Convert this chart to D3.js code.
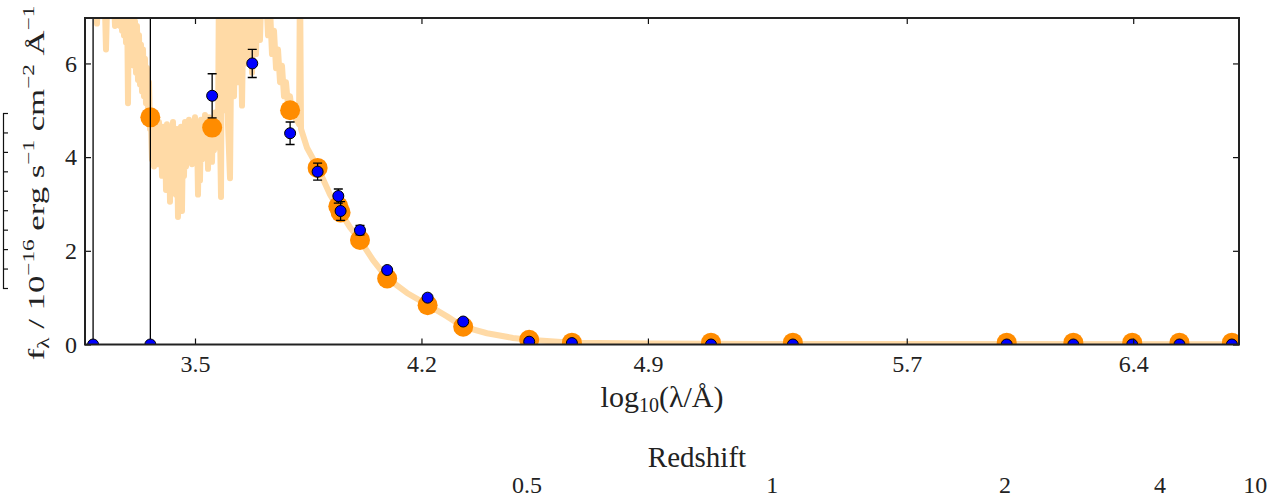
<!DOCTYPE html>
<html>
<head>
<meta charset="utf-8">
<script src="https://cdn.jsdelivr.net/npm/d3@7/dist/d3.min.js"></script>
<style>
  body { margin: 0; background: #fff; }
  svg text { font-family: "Liberation Serif", "DejaVu Serif", serif; fill: #222; }
</style>
</head>
<body>
<svg id="chart" width="1268" height="498"></svg>
<script>
// Observed photometry (log10 wavelength in Å, flux in 1e-16 erg/s/cm2/Å)
const obsLogLam = [3.185, 3.362, 3.553, 3.677, 3.794, 3.879, 3.943, 3.950, 4.010, 4.094, 4.219,
                   4.329, 4.533, 4.665, 5.095, 5.348, 6.009, 6.215, 6.397, 6.543, 6.705];
const obsFlux   = [0, 0, 5.31, 6.00, 4.51, 3.69, 3.17, 2.85, 2.44, 1.59, 1.00,
                   0.49, 0.06, 0.03, 0, 0, 0, 0, 0, 0, 0];
const obsErr    = [25, 25, 0.47, 0.30, 0.24, 0.18, 0.15, 0.20, 0.10, 0.05, 0.05,
                   0.05, 0.02, 0.01, 0, 0, 0, 0, 0, 0, 0];
// Model flux in each band (null = off scale)
const modelFlux = [null, 4.85, 4.63, null, 5.00, 3.77, 2.95, 2.82, 2.23, 1.41, 0.84,
                   0.38, 0.10, 0.04, 0.04, 0.04, 0.04, 0.04, 0.04, 0.04, 0.04];

// Best-fit model spectrum: [log10 λ, flux]
const modelSpectrum = [
  [3.1600, 8.0], [3.1754, 8.0], [3.1909, 8.0], [3.1971, 6.85], [3.2032, 8.0], [3.2187, 8.0],
  [3.2249, 6.3], [3.2311, 8.0], [3.2465, 8.0], [3.2527, 6.8],
  // blue continuum falling off
  [3.2589, 8.0], [3.2620, 6.94], [3.2651, 8.0], [3.2682, 6.8], [3.2713, 8.0], [3.2744, 6.7],
  [3.2775, 7.9], [3.2805, 6.6], [3.2836, 7.8], [3.2867, 6.45], [3.2898, 7.6], [3.2929, 5.15],
  [3.2960, 7.4], [3.2991, 6.2], [3.3022, 7.3], [3.3053, 6.05], [3.3084, 7.1], [3.3114, 5.95],
  [3.3145, 6.9], [3.3176, 5.8], [3.3207, 6.8], [3.3238, 5.65], [3.3269, 6.6], [3.3300, 5.55],
  [3.3331, 6.4], [3.3362, 5.4], [3.3393, 6.3], [3.3423, 5.3], [3.3454, 6.1], [3.3485, 5.15],
  [3.3516, 5.9], [3.3547, 5.0], [3.3578, 5.6], [3.3609, 4.6],
  // absorption-rich region
  [3.3640, 4.75], [3.3671, 3.95], [3.3702, 4.6], [3.3733, 3.8], [3.3764, 4.7], [3.3794, 4.0],
  [3.3825, 4.55], [3.3856, 3.85], [3.3887, 4.75], [3.3918, 3.9], [3.3949, 4.5], [3.3980, 3.6],
  [3.4011, 4.65], [3.4042, 3.9], [3.4073, 4.6], [3.4104, 3.3], [3.4134, 4.7], [3.4165, 3.8],
  [3.4196, 4.55], [3.4227, 3.05], [3.4258, 4.6], [3.4289, 3.7], [3.4320, 4.75], [3.4351, 3.5],
  [3.4382, 4.5], [3.4413, 3.2], [3.4443, 4.6], [3.4474, 2.72], [3.4505, 4.5], [3.4536, 3.4],
  [3.4567, 4.65], [3.4598, 2.85], [3.4629, 4.5], [3.4660, 3.6], [3.4691, 4.75], [3.4722, 3.8],
  [3.4753, 4.6], [3.4784, 3.95], [3.4814, 4.8], [3.4845, 4.0], [3.4876, 4.55], [3.4907, 3.85],
  [3.4938, 4.7], [3.4969, 4.05], [3.5000, 4.85], [3.5031, 3.9], [3.5062, 4.6], [3.5093, 3.2],
  [3.5124, 4.75], [3.5155, 3.5], [3.5185, 4.8], [3.5216, 3.95], [3.5247, 4.65], [3.5278, 4.1],
  [3.5309, 4.9], [3.5340, 4.0], [3.5371, 4.7], [3.5402, 3.75], [3.5433, 4.85], [3.5464, 4.05],
  [3.5495, 4.6], [3.5526, 3.9], [3.5556, 4.8], [3.5587, 4.15], [3.5618, 4.95], [3.5649, 4.2],
  [3.5680, 4.8], [3.5711, 4.3],
  // strong emission lines
  [3.5742, 8.0], [3.5773, 4.6], [3.5804, 3.15], [3.5835, 8.0], [3.5896, 5.0], [3.5958, 8.0],
  [3.6020, 4.7], [3.6082, 3.55], [3.6144, 8.0], [3.6206, 5.3], [3.6268, 8.0], [3.6329, 5.6],
  [3.6391, 8.0], [3.6453, 5.1], [3.6515, 8.0], [3.6577, 6.0], [3.6638, 6.6], [3.6700, 8.0],
  [3.6762, 5.8], [3.6824, 8.0], [3.6886, 6.2], [3.6948, 8.0], [3.7009, 6.5], [3.7071, 8.0],
  // declining red continuum
  [3.7133, 7.2], [3.7195, 7.6], [3.7257, 6.6], [3.7318, 7.2], [3.7380, 6.2], [3.7442, 6.7],
  [3.7504, 5.9], [3.7566, 6.3], [3.7628, 5.6], [3.7689, 5.95], [3.7751, 5.3], [3.7813, 5.6],
  [3.7875, 5.1], [3.7937, 5.3], [3.7999, 4.9], [3.8060, 5.0], [3.8122, 4.8], [3.8184, 4.75],
  [3.8215, 4.7], [3.8246, 8.0], [3.8277, 4.6], [3.8462, 4.2],
  [3.8802, 3.77], [3.9173, 3.2], [3.9420, 2.91], [3.9791, 2.5], [4.0100, 2.23], [4.0502, 1.8],
  [4.0935, 1.42], [4.1553, 1.1], [4.2202, 0.84], [4.2790, 0.6], [4.3284, 0.38], [4.4026, 0.24],
  [4.4830, 0.14], [4.5325, 0.10], [4.6654, 0.04], [4.9065, 0.02], [5.3702, 0.01], [5.9884, 0.01],
  [6.7273, 0.005]
];

const xTicks = [3.5, 4.2, 4.9, 5.7, 6.4];
const yTicks = [0, 2, 4, 6];
const redshiftLabels = ["0.5", "1", "2", "4", "10"];
const redshiftLogLam = [4.526, 5.284, 6.004, 6.483, 6.777];

const M = { left: 85, right: 1239, top: 18, bottom: 344.5 };
const x = d3.scaleLinear().domain([3.16, 6.727]).range([M.left, M.right]);
const y = d3.scaleLinear().domain([0, 6.97]).range([M.bottom, M.top]);

const svg = d3.select("#chart");

svg.append("defs").append("clipPath").attr("id", "plotArea")
  .append("rect")
  .attr("x", M.left).attr("y", M.top)
  .attr("width", M.right - M.left).attr("height", M.bottom - M.top);

const plot = svg.append("g").attr("clip-path", "url(#plotArea)");

// model spectrum
plot.append("path")
  .datum(modelSpectrum)
  .attr("d", d3.line().x(d => x(d[0])).y(d => y(d[1])))
  .attr("fill", "none")
  .attr("stroke", "#ffdaa6")
  .attr("stroke-width", 6)
  .attr("stroke-linejoin", "round");

const obs = obsLogLam.map((l, i) => ({ l, f: obsFlux[i], e: obsErr[i], m: modelFlux[i] }));

// model photometry
plot.selectAll("circle.model")
  .data(obs.filter(d => d.m !== null))
  .join("circle")
  .attr("class", "model")
  .attr("cx", d => x(d.l)).attr("cy", d => y(d.m))
  .attr("r", 10)
  .attr("fill", "#ff8c00");

// error bars
const eb = plot.selectAll("g.err").data(obs.filter(d => d.e > 0)).join("g").attr("class", "err")
  .attr("stroke", "#000").attr("stroke-width", 1.3);
eb.append("line")
  .attr("x1", d => x(d.l)).attr("x2", d => x(d.l))
  .attr("y1", d => y(d.f - d.e)).attr("y2", d => y(d.f + d.e));
eb.append("line")
  .attr("x1", d => x(d.l) - 4.5).attr("x2", d => x(d.l) + 4.5)
  .attr("y1", d => y(d.f - d.e)).attr("y2", d => y(d.f - d.e));
eb.append("line")
  .attr("x1", d => x(d.l) - 4.5).attr("x2", d => x(d.l) + 4.5)
  .attr("y1", d => y(d.f + d.e)).attr("y2", d => y(d.f + d.e));

// observed photometry
plot.selectAll("circle.obs")
  .data(obs)
  .join("circle")
  .attr("class", "obs")
  .attr("cx", d => x(d.l)).attr("cy", d => y(d.f))
  .attr("r", 5.5)
  .attr("fill", "#0000ff")
  .attr("stroke", "#000")
  .attr("stroke-width", 1);

// axes with inward ticks
function styleAxis(g) {
  g.select(".domain").remove();
  g.selectAll(".tick line").attr("stroke", "#111").attr("stroke-width", 1.2);
  g.selectAll(".tick text").attr("font-size", 24).style("font-family", "Liberation Serif");
}
svg.append("g").attr("transform", `translate(0,${M.bottom})`)
  .call(d3.axisBottom(x).tickValues(xTicks).tickSize(-6).tickPadding(10).tickFormat(d3.format(".1f")))
  .call(styleAxis);
svg.append("g").attr("transform", `translate(0,${M.top})`)
  .call(d3.axisTop(x).tickValues(xTicks).tickSize(-6).tickFormat(""))
  .call(styleAxis);
svg.append("g").attr("transform", `translate(${M.left},0)`)
  .call(d3.axisLeft(y).tickValues(yTicks).tickSize(-6).tickPadding(8).tickFormat(d3.format("d")))
  .call(styleAxis);
svg.append("g").attr("transform", `translate(${M.right},0)`)
  .call(d3.axisRight(y).tickValues(yTicks).tickSize(-6).tickFormat(""))
  .call(styleAxis);

// frame
svg.append("rect")
  .attr("x", M.left).attr("y", M.top)
  .attr("width", M.right - M.left).attr("height", M.bottom - M.top)
  .attr("fill", "none").attr("stroke", "#222").attr("stroke-width", 2);

// x label
const xl = svg.append("text")
  .attr("x", 662).attr("y", 407)
  .attr("text-anchor", "middle")
  .attr("font-size", 30);
xl.append("tspan").text("log");
xl.append("tspan").attr("font-size", 20).attr("dy", 5).text("10");
xl.append("tspan").attr("dy", -5).text("(λ/Å)");

// y label
const yl = svg.append("text")
  .attr("text-anchor", "middle")
  .attr("font-size", 24);
yl.append("tspan").text("f");
yl.append("tspan").attr("font-size", 16).attr("dy", 5).text("λ");
yl.append("tspan").attr("dy", -5).text(" / 10");
yl.append("tspan").attr("font-size", 16).attr("dy", -10).text("−16");
yl.append("tspan").attr("dy", 10).text(" erg s");
yl.append("tspan").attr("font-size", 16).attr("dy", -10).text("−1");
yl.append("tspan").attr("dy", 10).text(" cm");
yl.append("tspan").attr("font-size", 16).attr("dy", -10).text("−2");
yl.append("tspan").attr("dy", 10).text(" Å");
yl.append("tspan").attr("font-size", 16).attr("dy", -10).text("−1");
const ylLen = yl.node().getComputedTextLength();
yl.attr("transform", `translate(44,183) rotate(-90) scale(${355 / ylLen},1)`);

// redshift scale
svg.append("text")
  .attr("x", 697).attr("y", 467)
  .attr("text-anchor", "middle")
  .attr("font-size", 29)
  .text("Redshift");
svg.selectAll("text.z")
  .data(redshiftLabels)
  .join("text")
  .attr("class", "z")
  .attr("x", (d, i) => x(redshiftLogLam[i]))
  .attr("y", 493)
  .attr("text-anchor", "middle")
  .attr("font-size", 24)
  .text(d => d);

// bare tick ruler on the far left
const rulerScale = d3.scaleLinear().domain([0, 9]).range([113, 288]);
const ruler = svg.append("g").attr("transform", "translate(3,0)")
  .call(d3.axisRight(rulerScale).tickValues(d3.range(0, 10)).tickSize(5).tickFormat(""));
ruler.selectAll("path, line").attr("stroke", "#111").attr("stroke-width", 1.2);
</script>
</body>
</html>
